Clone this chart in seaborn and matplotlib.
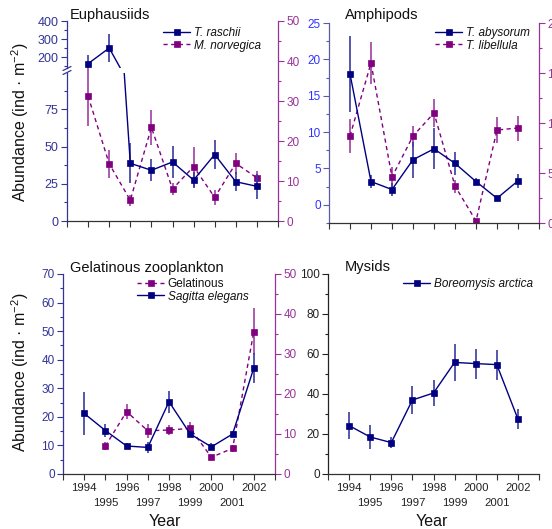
import numpy as np
import pandas as pd
import matplotlib
matplotlib.use("Agg")
import matplotlib.pyplot as plt
import seaborn as sns
from matplotlib.ticker import MultipleLocator
from matplotlib.lines import Line2D

# ---------------- data ----------------
years = [1994, 1995, 1996, 1997, 1998, 1999, 2000, 2001, 2002]

raschii = [163, 250, 38.8, 34.1, 39.7, 27.5, 44.7, 26.4, 23.3]
raschii_err = [48, 77, 13.5, 7.3, 11, 5.5, 9.7, 6.3, 8.5]
norvegica = [31.2, 14.3, 5.2, 23.4, 8.0, 13.6, 5.9, 14.4, 10.8]
norvegica_err = [7.5, 3.5, 1.4, 4.3, 1.5, 5.0, 1.8, 2.7, 1.6]

abysorum = [18.0, 3.2, 2.1, 6.2, 7.7, 5.7, 3.2, 0.9, 3.3]
abysorum_err = [5.2, 0.9, 0.9, 2.5, 2.8, 1.6, 0.5, 0.0, 1.0]
libellula = [87, 160, 46, 87, 110, 37, 2, 93, 95]
libellula_err = [17, 21, 10, 10.5, 14, 6.5, 1, 13, 12.5]

sagitta = [21.2, 15.2, 9.8, 9.3, 25.3, 14.0, 9.5, 14.0, 37.1]
sagitta_err = [7.5, 2.2, 0.9, 2.0, 3.8, 1.2, 1.2, 1.0, 5.3]
gelatinous = [np.nan, 7.0, 15.6, 10.8, 11.0, 11.4, 4.2, 6.4, 35.6]
gelatinous_err = [np.nan, 1.1, 1.8, 1.7, 1.25, 1.5, 0.0, 0.9, 5.8]

boreomysis = [24.2, 18.5, 15.7, 37.0, 40.5, 55.8, 55.2, 54.7, 27.5]
boreomysis_err = [6.6, 5.9, 2.8, 6.9, 6.6, 9.3, 7.5, 7.5, 4.8]

even_years = [1994, 1996, 1998, 2000, 2002]
odd_ticks = [1993, 1995, 1997, 1999, 2001, 2003]
odd_labels = ["", "1995", "1997", "1999", "2001", ""]

# ---------------- style ----------------
sns.set_style("ticks")
plt.rcParams["font.family"] = ["Liberation Sans", "DejaVu Sans"]
plt.rcParams["mathtext.default"] = "regular"

NAVY = "#000080"
NAVY_E = "#3a3a9e"
PURP = "#800080"
PURP_E = "#a040a0"
PURP_AX = "#993399"
DASH = (0, (3, 2.5))

W, H = 552, 529
fig = plt.figure(figsize=(W / 100, H / 100), dpi=100)


def rect(x0, x1, ytop, ybot):
    return [x0 / W, 1 - ybot / H, (x1 - x0) / W, (ybot - ytop) / H]


def fx(x):
    return x / W


def fy(y):
    return 1 - y / H


def draw(ax, y, err, color, ecolor, dashed=False):
    df = pd.DataFrame({"Year": years, "v": y, "e": err}).dropna()
    sns.lineplot(data=df, x="Year", y="v", ax=ax, color=color, marker="s",
                 markersize=5, markeredgecolor=color, markeredgewidth=0.5,
                 linewidth=1, linestyle=DASH if dashed else "-",
                 errorbar=None, legend=False, zorder=3)
    line = ax.lines[-1]
    ax.errorbar(df["Year"], df["v"], yerr=df["e"], fmt="none", ecolor=ecolor,
                elinewidth=1.2, capsize=0, zorder=2)
    ax.set_xlabel("")
    ax.set_ylabel("")
    return line


def setup_x(ax, labels, color="#333333"):
    ax.set_xlim(1993, 2003)
    if labels:
        ax.set_xticks(even_years, [str(y) for y in even_years])
        ax.set_xticks(odd_ticks, odd_labels, minor=True)
    else:
        ax.set_xticks(even_years, [""] * len(even_years))
        ax.set_xticks(odd_ticks, [""] * len(odd_ticks), minor=True)
    ax.tick_params(axis="x", which="both", direction="out", length=4,
                   width=0.8, colors=color, labelsize=8.2, labelcolor="#222222")
    ax.tick_params(axis="x", which="major", pad=2.5)
    ax.tick_params(axis="x", which="minor", pad=13)
    ax.spines["bottom"].set_color(color)
    ax.spines["bottom"].set_linewidth(0.9)


def setup_y(ax, side, color, labelcolor, major, minor, lim, size=8.5):
    ax.set_ylim(*lim)
    ax.yaxis.set_major_locator(MultipleLocator(major))
    ax.yaxis.set_minor_locator(MultipleLocator(minor))
    ax.yaxis.set_ticks_position(side)
    ax.tick_params(axis="y", which="major", direction="out", length=4,
                   width=0.8, colors=color, labelcolor=labelcolor,
                   labelsize=size, pad=2)
    ax.tick_params(axis="y", which="minor", direction="out", length=2,
                   width=0.8, colors=color)
    ax.spines[side].set_color(color)
    ax.spines[side].set_linewidth(0.9)


def only_spines(ax, keep):
    for s in ["left", "right", "top", "bottom"]:
        ax.spines[s].set_visible(s in keep)


def legend(ax, handles, labels, x, y, italic_flags):
    leg = ax.legend(handles, labels, loc="upper left",
                    bbox_to_anchor=(fx(x), fy(y)), bbox_transform=fig.transFigure,
                    frameon=False, borderpad=0, borderaxespad=0,
                    handlelength=2.3, handletextpad=0.3, labelspacing=0.05,
                    fontsize=8.5)
    for t, it in zip(leg.get_texts(), italic_flags):
        t.set_style("italic" if it else "normal")
        t.set_color("#111111")
    return leg


# ================= Euphausiids (top-left) =================
ax_tl_r = fig.add_axes(rect(67, 278, 21, 221), zorder=0)
ax_tl_up = fig.add_axes(rect(67, 278, 21, 68), zorder=1)
ax_tl_lo = fig.add_axes(rect(67, 278, 73, 221), zorder=1)
for a in (ax_tl_up, ax_tl_lo):
    a.patch.set_visible(False)

l_norv = draw(ax_tl_r, norvegica, norvegica_err, PURP, PURP_E, dashed=True)
only_spines(ax_tl_r, ["right"])
setup_y(ax_tl_r, "right", PURP_AX, PURP_AX, 10, 5, (0, 50))
ax_tl_r.set_xlim(1993, 2003)
ax_tl_r.set_xticks([])

draw(ax_tl_up, raschii, raschii_err, NAVY, NAVY_E)
l_rasc = draw(ax_tl_lo, raschii, raschii_err, NAVY, NAVY_E)
only_spines(ax_tl_up, ["left"])
only_spines(ax_tl_lo, ["left", "bottom"])
setup_y(ax_tl_up, "left", "#333399", "#333399", 100, 50, (139, 400), size=9)
setup_y(ax_tl_lo, "left", "#333399", "#333399", 25, 12.5, (0, 99.5), size=9)
ax_tl_up.set_xlim(1993, 2003)
ax_tl_up.set_xticks([])
setup_x(ax_tl_lo, False)

# break marks on the left axis
for yy in (68.5, 72.5):
    fig.add_artist(Line2D([fx(63), fx(71)], [fy(yy + 2), fy(yy - 2)],
                          color="#333399", lw=0.9))

legend(ax_tl_lo, [l_rasc, l_norv], ["T. raschii", "M. norvegica"], 163, 27,
       [True, True])
fig.text(fx(70), fy(19), "Euphausiids", fontsize=10.5, ha="left",
         va="baseline", color="#111111")

# ================= Amphipods (top-right) =================
ax_tr_r = fig.add_axes(rect(329, 539, 23, 223), zorder=0)
ax_tr = fig.add_axes(rect(329, 539, 23, 223), zorder=1)
ax_tr.patch.set_visible(False)

l_lib = draw(ax_tr_r, libellula, libellula_err, PURP, PURP_E, dashed=True)
only_spines(ax_tr_r, ["right"])
setup_y(ax_tr_r, "right", PURP_AX, PURP_AX, 50, 25, (0, 200))
ax_tr_r.set_xlim(1993, 2003)
ax_tr_r.set_xticks([])

l_aby = draw(ax_tr, abysorum, abysorum_err, NAVY, NAVY_E)
only_spines(ax_tr, ["left", "bottom"])
setup_y(ax_tr, "left", "#5a5aa6", "#3333ff", 5, 2.5, (-2.5, 25))
setup_x(ax_tr, False)

legend(ax_tr, [l_aby, l_lib], ["T. abysorum", "T. libellula"], 435, 27,
       [True, True])
fig.text(fx(345), fy(19), "Amphipods", fontsize=10.5, ha="left",
         va="baseline", color="#111111")

# ================= Gelatinous zooplankton (bottom-left) =================
ax_bl_r = fig.add_axes(rect(63, 275, 274, 474), zorder=0)
ax_bl = fig.add_axes(rect(63, 275, 274, 474), zorder=1)
ax_bl.patch.set_visible(False)

l_gel = draw(ax_bl_r, gelatinous, gelatinous_err, PURP, PURP_E, dashed=True)
only_spines(ax_bl_r, ["right"])
setup_y(ax_bl_r, "right", PURP_AX, PURP_AX, 10, 5, (0, 50))
ax_bl_r.set_xlim(1993, 2003)
ax_bl_r.set_xticks([])

l_sag = draw(ax_bl, sagitta, sagitta_err, NAVY, NAVY_E)
only_spines(ax_bl, ["left", "bottom"])
setup_y(ax_bl, "left", "#333399", "#333399", 10, 5, (0, 70))
setup_x(ax_bl, True)

legend(ax_bl, [l_gel, l_sag], ["Gelatinous", "Sagitta elegans"], 137, 278,
       [False, True])
fig.text(fx(70), fy(272), "Gelatinous zooplankton", fontsize=10.5, ha="left",
         va="baseline", color="#111111")

# ================= Mysids (bottom-right) =================
ax_br = fig.add_axes(rect(328, 539, 274, 474), zorder=1)
l_bor = draw(ax_br, boreomysis, boreomysis_err, NAVY, NAVY_E)
only_spines(ax_br, ["left", "bottom"])
setup_y(ax_br, "left", "#222222", "#222222", 20, 10, (0, 100))
setup_x(ax_br, True)

legend(ax_br, [l_bor], ["Boreomysis arctica"], 403, 278, [True])
fig.text(fx(345), fy(271), "Mysids", fontsize=10.5, ha="left",
         va="baseline", color="#111111")

# ================= shared labels =================
ylab = "Abundance (ind · m$^{-2}$)"
fig.text(fx(20), fy(122), ylab, rotation=90, ha="center", va="center",
         fontsize=11.5, color="#111111")
fig.text(fx(20), fy(372), ylab, rotation=90, ha="center", va="center",
         fontsize=11.5, color="#111111")
fig.text(fx(165), fy(521), "Year", ha="center", va="center", fontsize=11.5,
         color="#111111")
fig.text(fx(432), fy(521), "Year", ha="center", va="center", fontsize=11.5,
         color="#111111")

fig.savefig("out.png", dpi=100)
